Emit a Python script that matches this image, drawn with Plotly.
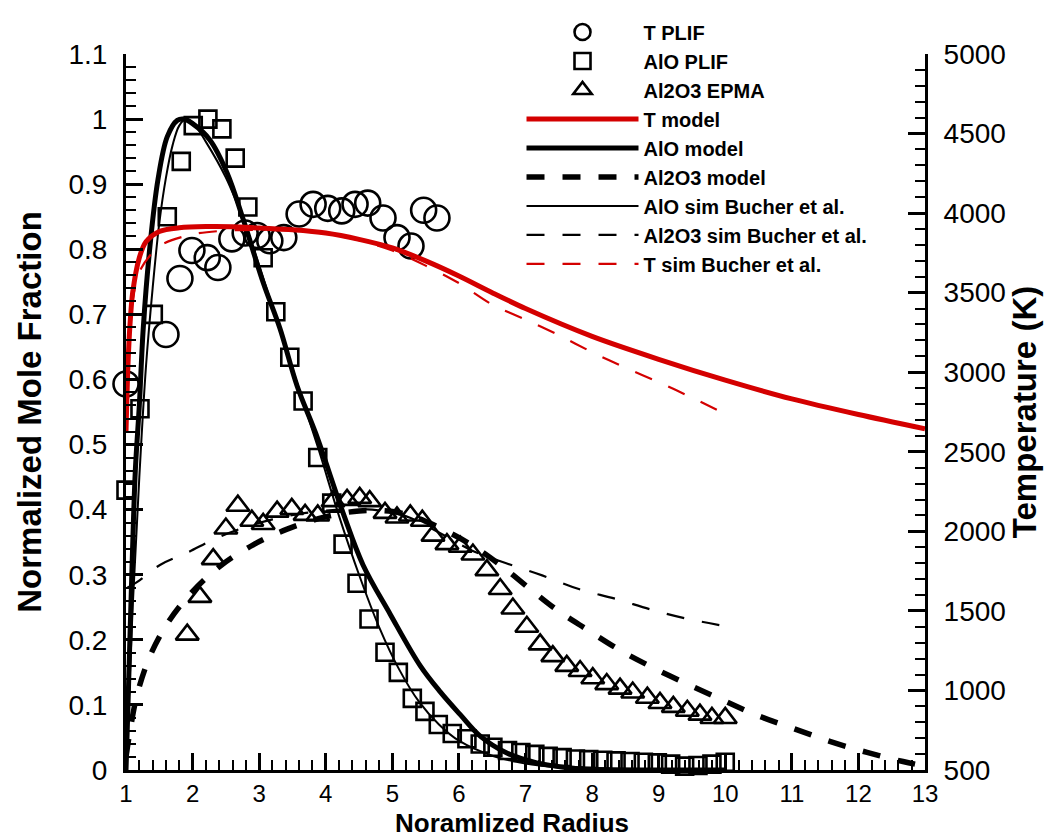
import plotly.graph_objects as go

# ---- AlO PLIF (normalized mole fraction) ----
alo_plif_r = [1.0, 1.21, 1.41, 1.62, 1.83, 2.01, 2.23, 2.44, 2.64, 2.83, 3.06, 3.25,
              3.46, 3.66, 3.88, 4.09, 4.26, 4.47, 4.65, 4.89, 5.09, 5.30, 5.49, 5.69,
              5.90, 6.12, 6.32, 6.51, 6.73, 6.93, 7.14, 7.34, 7.55, 7.75, 7.95, 8.16,
              8.36, 8.57, 8.77, 8.98, 9.18, 9.39, 9.59, 9.80, 10.0]
alo_plif = [0.43, 0.555, 0.70, 0.85, 0.935, 0.99, 1.0, 0.985, 0.94, 0.865, 0.787, 0.704,
            0.634, 0.567, 0.48, 0.41, 0.347, 0.287, 0.232, 0.181, 0.15, 0.11, 0.09, 0.07,
            0.056, 0.048, 0.04, 0.035, 0.03, 0.027, 0.024, 0.021, 0.019, 0.017, 0.016, 0.015,
            0.014, 0.013, 0.012, 0.011, 0.009, 0.006, 0.007, 0.009, 0.012]

# ---- Al2O3 EPMA ----
al2o3_epma_r = [1.92, 2.11, 2.31, 2.50, 2.68, 2.89, 3.06, 3.27, 3.49, 3.69, 3.88, 4.11,
                4.32, 4.51, 4.66, 4.89, 5.07, 5.27, 5.45, 5.61, 5.82, 6.02, 6.21, 6.42,
                6.62, 6.81, 7.02, 7.22, 7.41, 7.62, 7.82, 8.01, 8.22, 8.42, 8.61, 8.83,
                9.02, 9.22, 9.43, 9.62, 9.80, 10.0]
al2o3_epma = [0.208, 0.266, 0.324, 0.371, 0.406, 0.383, 0.378, 0.397, 0.401, 0.392, 0.391, 0.413,
              0.415, 0.418, 0.413, 0.395, 0.388, 0.391, 0.383, 0.360, 0.347, 0.343, 0.331, 0.307,
              0.278, 0.248, 0.220, 0.193, 0.175, 0.160, 0.152, 0.141, 0.132, 0.125, 0.119, 0.111,
              0.103, 0.097, 0.091, 0.085, 0.080, 0.080]

# ---- T PLIF (K) ----
t_plif_r = [1.0, 1.6, 1.81, 1.99, 2.22, 2.38, 2.59, 2.79, 2.97, 3.16, 3.37, 3.60,
            3.81, 4.03, 4.24, 4.44, 4.63, 4.86, 5.07, 5.28, 5.47, 5.67]
t_plif = [2926, 3237, 3589, 3765, 3720, 3658, 3838, 3875, 3859, 3826, 3846, 3994,
          4055, 4030, 4014, 4055, 4063, 3969, 3846, 3793, 4018, 3969]

# ---- T model (K) ----
t_model_r = [1.0, 1.03, 1.06, 1.1, 1.2, 1.3, 1.5, 1.8, 2.2, 2.6, 3.0, 3.5, 4.0,
             4.5, 5.0, 5.5, 6.0, 6.5, 7.0, 8.0, 9.0, 10.0, 11.0, 12.0, 13.0]
t_model = [2627, 3050, 3300, 3500, 3720, 3820, 3885, 3908, 3916, 3915, 3906, 3895, 3875,
           3835, 3781, 3700, 3605, 3500, 3400, 3225, 3081, 2950, 2832, 2734, 2644]

# ---- AlO model ----
alo_model_r = [1.0, 1.03, 1.09, 1.14, 1.2, 1.26, 1.36, 1.48, 1.62, 1.77, 1.87, 2.0, 2.26,
               2.52, 2.76, 3.06, 3.31, 3.57, 3.85, 4.26, 4.56, 4.97, 5.42, 5.72, 6.02,
               6.32, 6.72, 7.17, 7.6, 8.0, 9.0, 10.0]
alo_model = [0.0, 0.10, 0.31, 0.46, 0.56, 0.68, 0.805, 0.907, 0.973, 0.998, 1.0, 0.993, 0.968,
             0.917, 0.846, 0.749, 0.679, 0.59, 0.517, 0.395, 0.315, 0.239, 0.16, 0.12, 0.085,
             0.052, 0.026, 0.011, 0.004, 0.001, 0.0, 0.0]

# ---- Al2O3 model ----
al2o3_model_r = [1.0, 1.06, 1.17, 1.36, 1.62, 1.96, 2.41, 2.91, 3.42, 3.96, 4.5, 5.0, 5.3,
                 5.61, 6.17, 6.62, 7.07, 7.47, 7.92, 8.42, 8.92, 9.47, 9.97, 10.48, 11.02,
                 11.57, 12.13, 12.67, 13.0]
al2o3_model = [0.02, 0.06, 0.117, 0.175, 0.225, 0.27, 0.313, 0.346, 0.37, 0.388, 0.398, 0.397,
               0.39, 0.377, 0.347, 0.315, 0.278, 0.246, 0.216, 0.184, 0.157, 0.13, 0.107, 0.084,
               0.064, 0.044, 0.027, 0.013, 0.006]

# ---- AlO sim Bucher et al. ----
alo_sim_r = [1.0, 1.1, 1.2, 1.3, 1.4, 1.5, 1.6, 1.7, 1.8, 1.9, 2.0, 2.2, 2.5, 2.8, 3.0,
             3.3, 3.6, 3.9, 4.2, 4.5, 4.8, 5.1, 5.4, 5.7, 6.0, 6.5, 7.0, 7.5, 8.0, 10.0]
alo_sim = [0.0, 0.25, 0.45, 0.62, 0.74, 0.84, 0.91, 0.96, 0.99, 1.0, 0.995, 0.965, 0.91,
           0.835, 0.775, 0.68, 0.585, 0.49, 0.39, 0.30, 0.22, 0.155, 0.105, 0.07, 0.045,
           0.022, 0.01, 0.004, 0.001, 0.0]

# ---- Al2O3 sim Bucher et al. ----
al2o3_sim_r = [1.02, 1.17, 1.51, 1.92, 2.31, 2.7, 3.2, 3.7, 4.2, 4.7, 5.2, 5.7, 6.2, 6.7,
               7.25, 7.8, 8.35, 8.9, 9.4, 10.0]
al2o3_sim = [0.28, 0.289, 0.315, 0.334, 0.354, 0.37, 0.385, 0.395, 0.40, 0.40, 0.39, 0.365,
             0.337, 0.318, 0.299, 0.278, 0.263, 0.246, 0.233, 0.221]

# ---- T sim Bucher et al. (K) ----
t_sim_r = [1.0, 1.06, 1.2, 1.5, 2.0, 2.5, 3.0, 3.5, 4.0, 4.5, 5.0, 5.5, 6.0, 6.5, 7.0,
           7.5, 8.0, 8.5, 9.0, 9.5, 10.0]
t_sim = [2750, 3323, 3630, 3793, 3867, 3890, 3895, 3890, 3870, 3830, 3765, 3670, 3560,
         3425, 3331, 3233, 3126, 3028, 2938, 2840, 2738]

# ---- axis ticks ----
x_ticks = list(range(1, 14))
y_ticks = [0, 0.1, 0.2, 0.3, 0.4, 0.5, 0.6, 0.7, 0.8, 0.9, 1.0, 1.1]
y_ticktext = ["0", "0.1", "0.2", "0.3", "0.4", "0.5", "0.6", "0.7", "0.8", "0.9", "1", "1.1"]
t_ticks = [500, 1000, 1500, 2000, 2500, 3000, 3500, 4000, 4500, 5000]

RED = "#d40000"
BLK = "black"
DASH = "18px,18px"

fig = go.Figure()

fig.add_trace(go.Scatter(x=t_plif_r, y=t_plif, yaxis="y2", mode="markers", name="T PLIF",
                         cliponaxis=False,
                         marker=dict(symbol="circle-open", size=25, color=BLK,
                                     line=dict(width=2.6, color=BLK))))
fig.add_trace(go.Scatter(x=alo_plif_r, y=alo_plif, mode="markers", name="AlO PLIF",
                         cliponaxis=False,
                         marker=dict(symbol="square-open", size=17, color=BLK,
                                     line=dict(width=2.6, color=BLK))))
fig.add_trace(go.Scatter(x=al2o3_epma_r, y=al2o3_epma, mode="markers", name="Al2O3 EPMA",
                         cliponaxis=False,
                         marker=dict(symbol="triangle-up-open", size=20, color=BLK,
                                     line=dict(width=2.6, color=BLK))))
fig.add_trace(go.Scatter(x=t_model_r, y=t_model, yaxis="y2", mode="lines", name="T model",
                         line=dict(color=RED, width=5, shape="spline", smoothing=0.8)))
fig.add_trace(go.Scatter(x=alo_model_r, y=alo_model, mode="lines", name="AlO model",
                         line=dict(color=BLK, width=5, shape="spline")))
fig.add_trace(go.Scatter(x=al2o3_model_r, y=al2o3_model, mode="lines", name="Al2O3 model",
                         line=dict(color=BLK, width=5.5, dash=DASH, shape="spline")))
fig.add_trace(go.Scatter(x=alo_sim_r, y=alo_sim, mode="lines", name="AlO sim Bucher et al.",
                         line=dict(color=BLK, width=2, shape="spline")))
fig.add_trace(go.Scatter(x=al2o3_sim_r, y=al2o3_sim, mode="lines",
                         name="Al2O3 sim Bucher et al.",
                         line=dict(color=BLK, width=2.2, dash=DASH, shape="spline")))
fig.add_trace(go.Scatter(x=t_sim_r, y=t_sim, yaxis="y2", mode="lines",
                         name="T sim Bucher et al.",
                         line=dict(color=RED, width=2.2, dash=DASH, shape="spline",
                                   smoothing=0.8)))

tick_font = dict(family="Liberation Sans, Arial, sans-serif", size=28, color="black")
x_tick_font = dict(family="Liberation Sans, Arial, sans-serif", size=24, color="black")
title_font = dict(family="Liberation Sans Narrow, Arial Narrow, Liberation Sans, sans-serif",
                  size=33, color="black", weight="bold")

common = dict(showline=True, linewidth=3, linecolor="black", ticks="inside", ticklen=17,
              tickwidth=3, tickcolor="black", showgrid=False, zeroline=False,
              automargin=False)

fig.update_layout(
    width=1045, height=840,
    margin=dict(l=126, r=120, t=46, b=70),
    paper_bgcolor="white", plot_bgcolor="white",
    showlegend=True,
    legend=dict(x=0.495, y=1.058, xanchor="left", yanchor="top", bgcolor="rgba(0,0,0,0)",
                itemwidth=112, tracegroupgap=0,
                font=dict(family="Liberation Sans, Arial, sans-serif", size=20,
                          color="black", weight="bold")),
    xaxis=dict(range=[1, 13], tickmode="array", tickvals=x_ticks,
               ticktext=[str(v) for v in x_ticks], ticklabelstandoff=0,
               tickfont=x_tick_font,
               minor=dict(tickmode="linear", tick0=1, dtick=0.2, ticks="inside",
                          ticklen=10, tickwidth=1.5, tickcolor="black"),
               **common),
    yaxis=dict(range=[0, 1.1], tickmode="array", tickvals=y_ticks, ticktext=y_ticktext,
               ticklabelstandoff=10, tickfont=tick_font,
               minor=dict(tickmode="linear", tick0=0, dtick=0.02, ticks="inside",
                          ticklen=10, tickwidth=1.5, tickcolor="black"),
               title=dict(text="Normalized Mole Fraction", font=title_font, standoff=17),
               **common),
    yaxis2=dict(range=[500, 5000], overlaying="y", side="right", anchor="x",
                tickmode="array", tickvals=t_ticks, ticktext=[str(v) for v in t_ticks],
                ticklabelstandoff=10, tickfont=tick_font,
                minor=dict(tickmode="linear", tick0=500, dtick=100, ticks="inside",
                           ticklen=10, tickwidth=1.5, tickcolor="black"),
                title=dict(text="Temperature (K)", font=title_font, standoff=6),
                **common),
    annotations=[dict(text="Noramlized Radius", xref="paper", yref="paper",
                      x=0.483, y=-69.5 / 724, xanchor="center", yanchor="bottom",
                      showarrow=False, borderpad=0,
                      font=dict(family="Liberation Sans, Arial, sans-serif", size=26,
                                color="black", weight="bold"))],
)

fig.write_html("out.html")
